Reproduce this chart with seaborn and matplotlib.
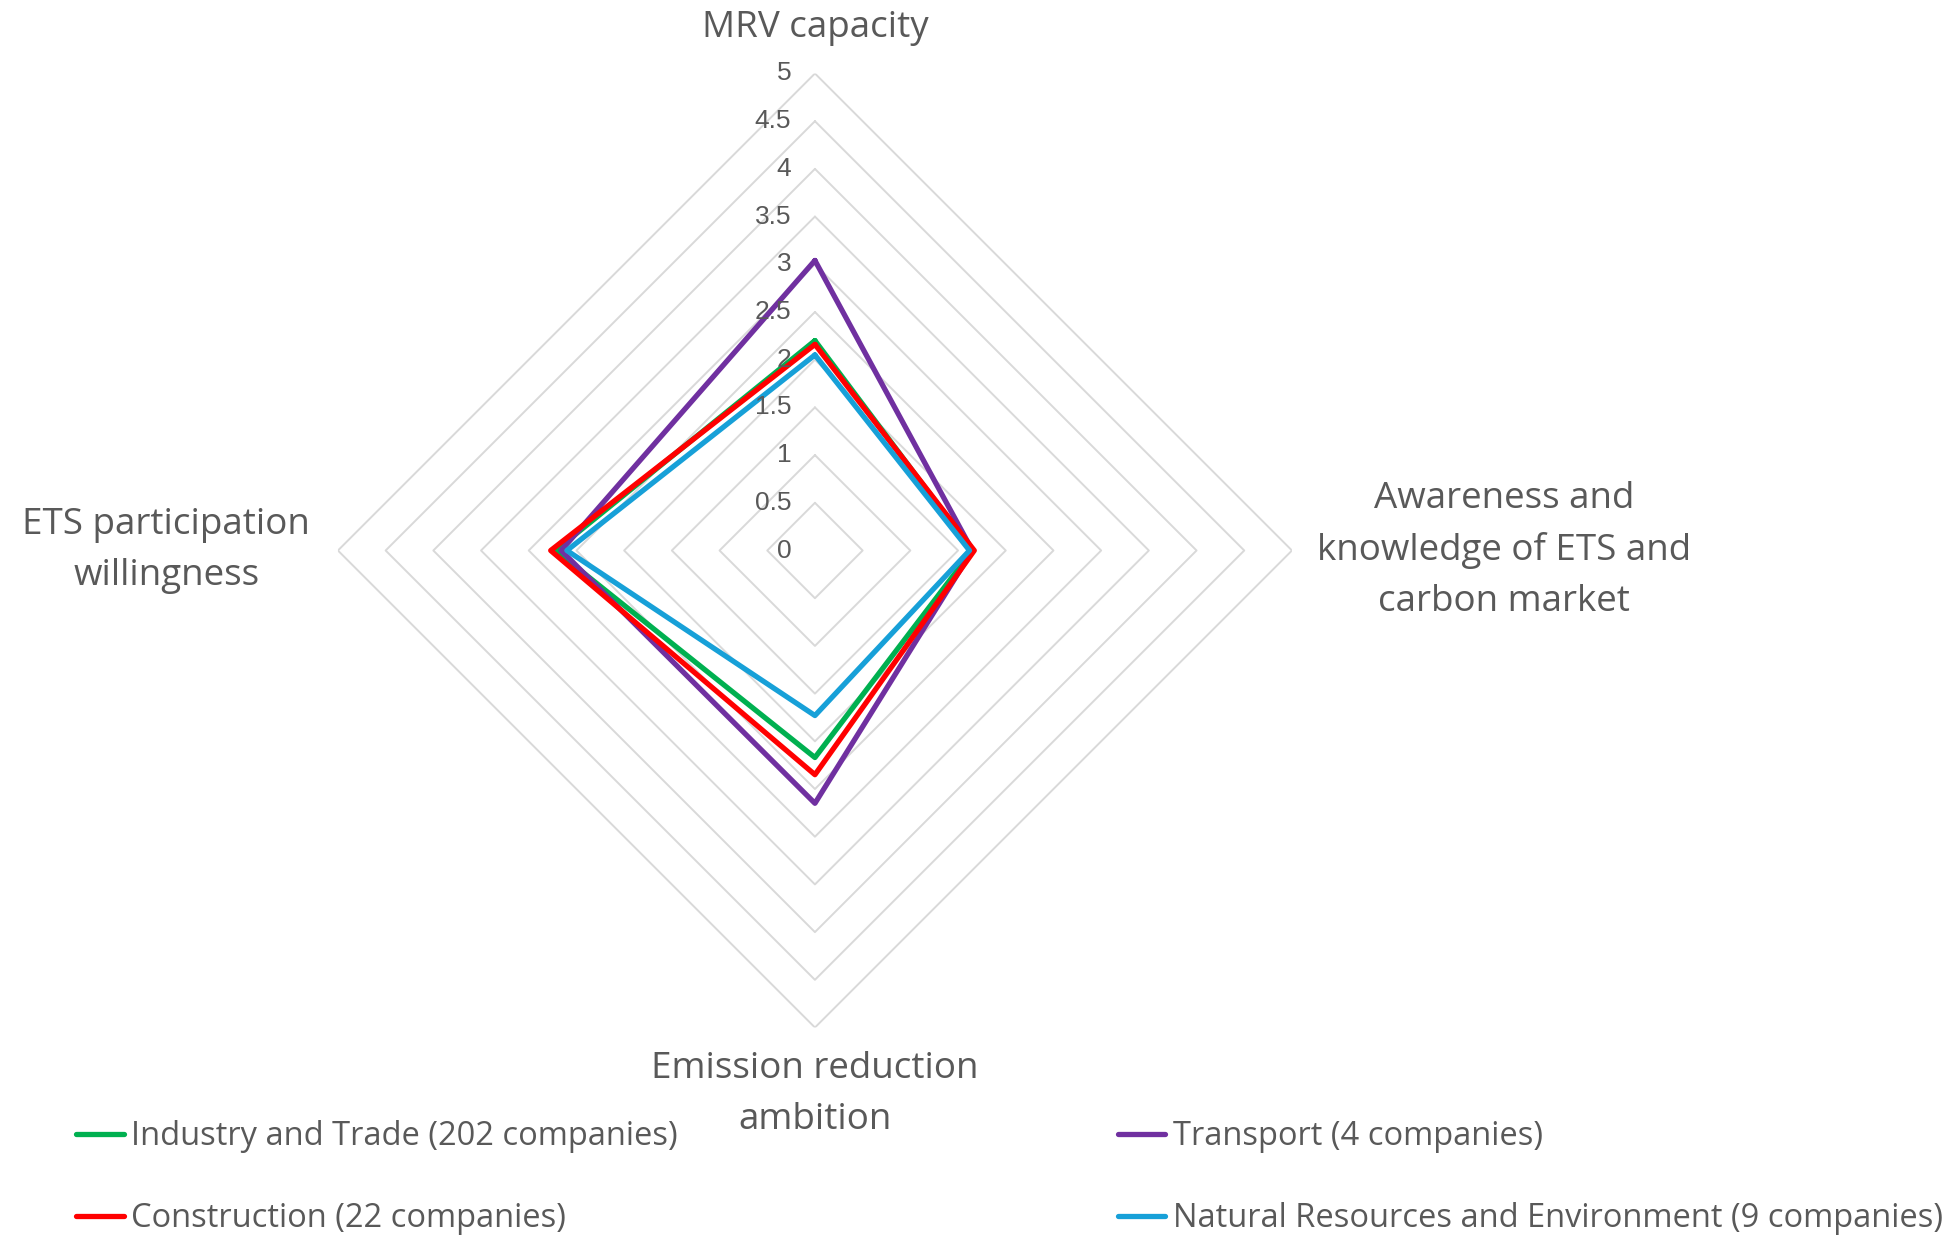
import numpy as np
import pandas as pd
import matplotlib
matplotlib.use("Agg")
import matplotlib.pyplot as plt
import seaborn as sns

# axes (clockwise from top) and series values
axes_labels = ["MRV capacity",
               "Awareness and\nknowledge of ETS and\ncarbon market",
               "Emission reduction\nambition",
               "ETS participation\nwillingness"]
sectors = ["Industry and Trade (202 companies)",
           "Transport (4 companies)",
           "Construction (22 companies)",
           "Natural Resources and Environment (9 companies)"]
industry = [2.20, 1.65, 2.17, 2.72]
transport = [3.04, 1.65, 2.65, 2.66]
construction = [2.16, 1.67, 2.35, 2.77]
natural = [2.05, 1.62, 1.73, 2.60]
tick_vals = [0, 0.5, 1, 1.5, 2, 2.5, 3, 3.5, 4, 4.5, 5]
colors = ["#00B050", "#7030A0", "#FF0000", "#17A0D8"]

sns.set_theme(style="white")
plt.rcParams['font.family'] = ['Open Sans', 'DejaVu Sans']

n = len(axes_labels)
angles = np.linspace(0, 2 * np.pi, n, endpoint=False)
theta_closed = np.append(angles, 2 * np.pi)

rows = []
for name, vals in zip(sectors, [industry, transport, construction, natural]):
    vv = vals + vals[:1]
    for t, v in zip(theta_closed, vv):
        rows.append({"sector": name, "theta": t, "value": v})
df = pd.DataFrame(rows)

fig = plt.figure(figsize=(19.59, 12.35), dpi=100)
ax = fig.add_axes([0.1725, 0.168, 0.487, 0.7725], projection="polar")
ax.set_theta_offset(np.pi / 2)
ax.set_theta_direction(-1)
ax.set_ylim(0, 5)
ax.grid(False)
ax.spines["polar"].set_visible(False)
ax.set_xticks([])
ax.set_yticks([])

# diamond grid rings
for r in tick_vals[1:]:
    ax.plot(theta_closed, [r] * len(theta_closed), color="#D9D9D9", lw=1.4, zorder=1)

sns.lineplot(data=df, x="theta", y="value", hue="sector", hue_order=sectors,
             palette=colors, sort=False, estimator=None, lw=3.8, ax=ax,
             legend=False, zorder=3)
ax.set_xlabel("")
ax.set_ylabel("")

for r in tick_vals:
    ax.annotate(f"{r:g}", xy=(0, r), xytext=(-17, 0), textcoords="offset points",
                ha="right", va="center", fontsize=19, color="#595959",
                family=["Liberation Sans", "DejaVu Sans"])

label_cfg = [((0, 20), "center", "bottom"),
             ((18, 0), "left", "center"),
             ((0, -17), "center", "top"),
             ((-20, 0), "right", "center")]
for ang, lab, (off, ha, va) in zip(angles, axes_labels, label_cfg):
    ax.annotate(lab, xy=(ang, 5), xytext=off, textcoords="offset points",
                ha=ha, va=va, fontsize=26.5, color="#595959", linespacing=1.55,
                multialignment="center", annotation_clip=False)

handles = [plt.Line2D([], [], color=c, lw=3.8) for c in colors]
order = [0, 2, 1, 3]
leg = fig.legend([handles[i] for i in order], [sectors[i] for i in order],
                 ncol=2, loc="lower left", bbox_to_anchor=(0.024, -0.024),
                 frameon=False, fontsize=23.5, handlelength=1.45, handletextpad=0.22,
                 labelspacing=1.5, columnspacing=13.5, labelcolor="#595959")

fig.savefig("out.png", dpi=100)
